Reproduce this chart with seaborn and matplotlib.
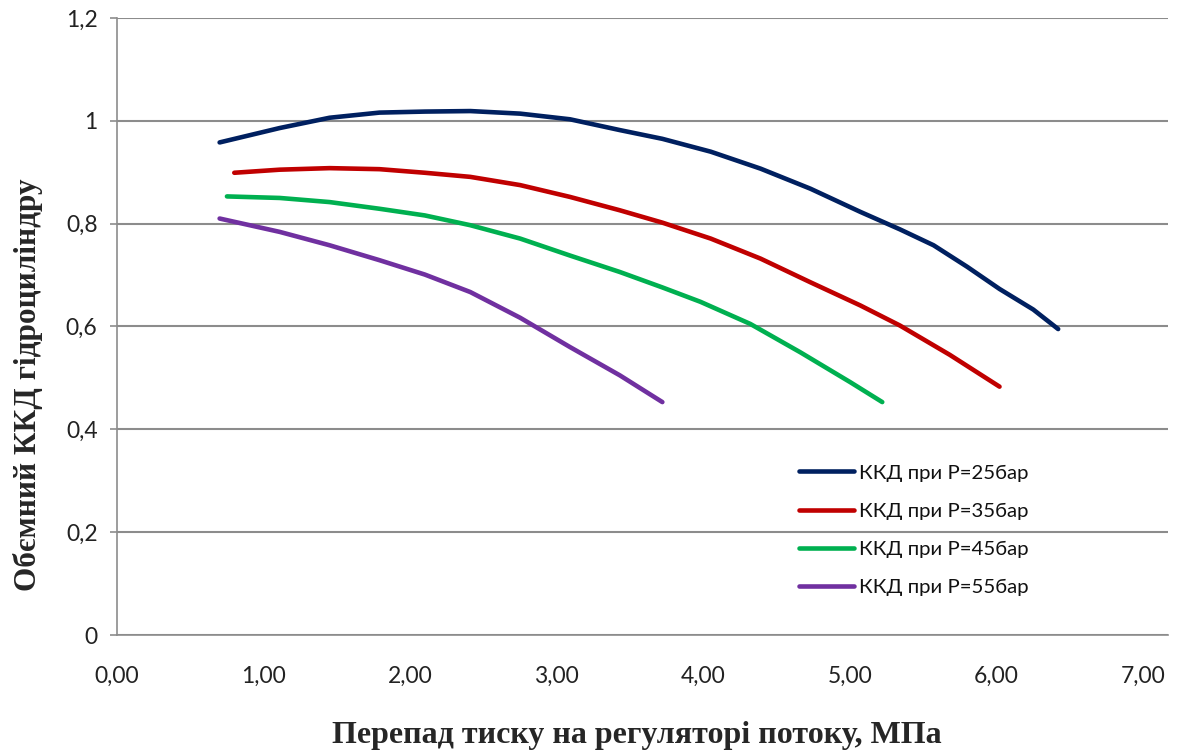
import numpy as np
import pandas as pd
import matplotlib
matplotlib.use("Agg")
import matplotlib.pyplot as plt
import seaborn as sns

# ---- data ----
labels = ["ККД при P=25бар", "ККД при P=35бар", "ККД при P=45бар", "ККД при P=55бар"]
colors = ["#002060", "#C00000", "#00B050", "#7030A0"]

x25 = [0.70, 1.11, 1.45, 1.79, 2.10, 2.41, 2.75, 3.09, 3.43, 3.72, 4.05, 4.39, 4.73, 5.07, 5.34, 5.57, 5.80, 6.02, 6.25, 6.42]
y25 = [0.958, 0.986, 1.006, 1.016, 1.018, 1.019, 1.014, 1.003, 0.982, 0.965, 0.940, 0.907, 0.868, 0.823, 0.789, 0.758, 0.716, 0.673, 0.633, 0.595]

x35 = [0.80, 1.11, 1.45, 1.79, 2.10, 2.41, 2.75, 3.09, 3.43, 3.72, 4.05, 4.39, 4.73, 5.07, 5.34, 5.68, 6.02]
y35 = [0.899, 0.905, 0.908, 0.906, 0.899, 0.891, 0.875, 0.852, 0.826, 0.802, 0.771, 0.732, 0.686, 0.641, 0.602, 0.545, 0.483]

x45 = [0.75, 1.11, 1.45, 1.79, 2.10, 2.41, 2.75, 3.09, 3.43, 3.72, 3.98, 4.32, 4.66, 5.00, 5.22]
y45 = [0.853, 0.850, 0.842, 0.829, 0.816, 0.797, 0.771, 0.738, 0.706, 0.676, 0.648, 0.605, 0.550, 0.492, 0.453]

x55 = [0.70, 1.11, 1.45, 1.79, 2.10, 2.41, 2.75, 3.09, 3.43, 3.72]
y55 = [0.810, 0.784, 0.758, 0.729, 0.701, 0.667, 0.617, 0.560, 0.505, 0.453]

xticks = [0, 1, 2, 3, 4, 5, 6, 7]
xtick_labels = ["0,00", "1,00", "2,00", "3,00", "4,00", "5,00", "6,00", "7,00"]
yticks = [0, 0.2, 0.4, 0.6, 0.8, 1.0, 1.2]
ytick_labels = ["0", "0,2", "0,4", "0,6", "0,8", "1", "1,2"]

xlabel = "Перепад тиску на регуляторі потоку, МПа"
ylabel = "Обємний ККД гідроциліндру"

frames = []
for lab, xs, ys in zip(labels, [x25, x35, x45, x55], [y25, y35, y45, y55]):
    frames.append(pd.DataFrame({"x": xs, "y": ys, "series": lab}))
df = pd.concat(frames, ignore_index=True)

sns.set_theme(style="white")
plt.rcParams["font.family"] = ["Lato", "DejaVu Sans"]

fig = plt.figure(figsize=(11.84, 7.53), dpi=100)
ax = fig.add_axes([117 / 1184, 1 - 635 / 753, (1168 - 117) / 1184, (635 - 18) / 753])

sns.lineplot(data=df, x="x", y="y", hue="series", hue_order=labels,
             palette=dict(zip(labels, colors)), sort=False, estimator=None,
             linewidth=3.3, ax=ax, legend=True)
for ln in ax.get_lines():
    ln.set_solid_capstyle("round")
    ln.set_solid_joinstyle("round")

ax.set_xlim(0, (1168 - 117) / 146.6)
ax.set_ylim(0, 1.2)
ax.set_xticks(xticks)
ax.set_xticklabels(xtick_labels, fontsize=16.5, color="#222222")
ax.set_yticks(yticks)
ax.set_yticklabels(ytick_labels, fontsize=16.5, color="#222222")
ax.yaxis.grid(True, color="#8c8c8c", linewidth=1.5)
ax.xaxis.grid(False)
ax.set_axisbelow(True)
for s in ["top", "right"]:
    ax.spines[s].set_visible(False)
for s in ["left", "bottom"]:
    ax.spines[s].set_color("#8c8c8c")
    ax.spines[s].set_linewidth(1.2)
ax.tick_params(axis="y", which="both", left=True, length=5, width=1.2, color="#8c8c8c", pad=9)
ax.tick_params(axis="x", which="both", bottom=False, pad=16)

ax.set_xlabel("")
ax.set_ylabel("")
fig.text(637 / 1184, 1 - 735 / 753, xlabel, ha="center", va="center",
         fontsize=23, fontweight="bold", family=["Liberation Serif", "DejaVu Serif"])
fig.text(28 / 1184, 1 - 385 / 753, ylabel, ha="center", va="center", rotation=90,
         fontsize=22.5, fontweight="bold", family=["Liberation Serif", "DejaVu Serif"])

handles, labs = ax.get_legend_handles_labels()
leg = ax.legend(handles, labs, loc="upper left",
                bbox_to_anchor=(785 / 1184, 1 - 450 / 753), bbox_transform=fig.transFigure,
                frameon=False, fontsize=14.7, handlelength=2.7, handletextpad=0.2,
                labelspacing=1.02, borderpad=0.2)
for h in leg.get_lines():
    h.set_linewidth(3.3)
    h.set_solid_capstyle("round")
for t in leg.get_texts():
    t.set_color("#111111")

fig.savefig("out.png", dpi=100)
